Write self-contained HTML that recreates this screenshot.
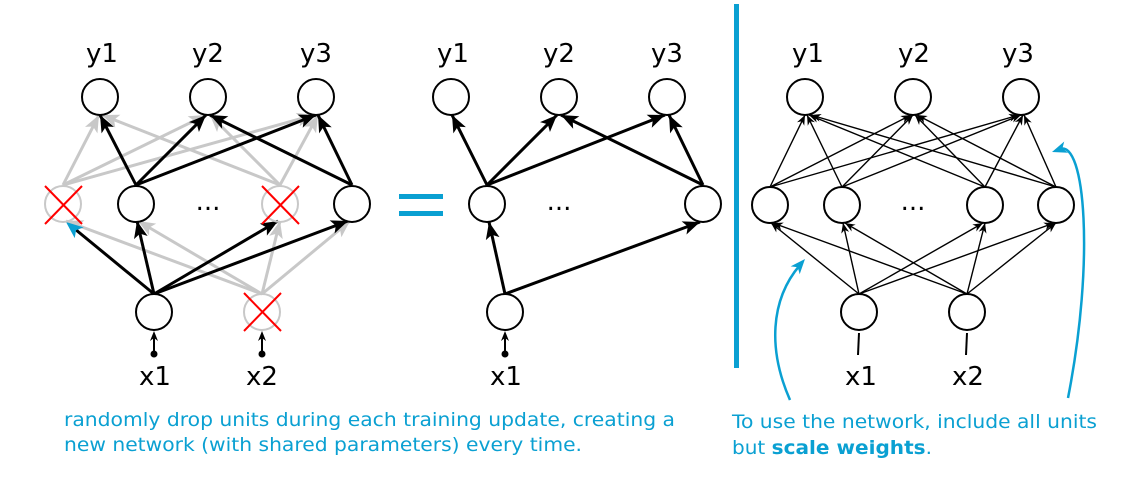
<!DOCTYPE html>
<html><head><meta charset="utf-8"><style>
html,body{margin:0;padding:0;background:#fff;}
svg{display:block;}
text{font-family:"DejaVu Sans","Liberation Sans",sans-serif;}
.big{font-size:26px;fill:#000;}
.cap{font-size:19px;fill:#0aa0d2;}
</style></head><body>
<svg width="1122" height="482" viewBox="0 0 1122 482" xmlns="http://www.w3.org/2000/svg">

<!-- LEFT NETWORK: grey -->
<g style="stroke:#c8c8c8;stroke-width:3;fill:none">
<line x1="63" y1="185" x2="99" y2="115"/>
<line x1="63" y1="185" x2="206" y2="115"/>
<line x1="63" y1="185" x2="314" y2="115"/>
<line x1="280" y1="185" x2="102" y2="115"/>
<line x1="280" y1="185" x2="210" y2="115"/>
<line x1="280" y1="185" x2="318" y2="115"/>
<line x1="262" y1="294" x2="66" y2="221"/>
<line x1="262" y1="294" x2="138" y2="221"/>
<line x1="262" y1="294" x2="280" y2="221"/>
<line x1="262" y1="294" x2="350" y2="221"/>
</g>
<g style="fill:#c8c8c8;stroke:none">
<path transform="translate(99,115) rotate(-62.8)" d="M0,0 L-17,-7 L-13,0 L-17,7Z"/>
<path transform="translate(206,115) rotate(-26.1)" d="M0,0 L-17,-7 L-13,0 L-17,7Z"/>
<path transform="translate(314,115) rotate(-15.6)" d="M0,0 L-17,-7 L-13,0 L-17,7Z"/>
<path transform="translate(102,115) rotate(-158.5)" d="M0,0 L-17,-7 L-13,0 L-17,7Z"/>
<path transform="translate(210,115) rotate(-135)" d="M0,0 L-17,-7 L-13,0 L-17,7Z"/>
<path transform="translate(318,115) rotate(-61.5)" d="M0,0 L-17,-7 L-13,0 L-17,7Z"/>
<path transform="translate(66,221) rotate(-159.6)" d="M0,0 L-17,-7 L-13,0 L-17,7Z"/>
<path transform="translate(138,221) rotate(-149.5)" d="M0,0 L-17,-7 L-13,0 L-17,7Z"/>
<path transform="translate(280,221) rotate(-76.1)" d="M0,0 L-17,-7 L-13,0 L-17,7Z"/>
<path transform="translate(350,221) rotate(-39.7)" d="M0,0 L-17,-7 L-13,0 L-17,7Z"/>
</g>
<!-- black -->
<g style="stroke:#000;stroke-width:3;fill:none">
<line x1="136" y1="185" x2="100" y2="115"/>
<line x1="136" y1="185" x2="206" y2="115"/>
<line x1="136" y1="185" x2="316" y2="115"/>
<line x1="352" y1="185" x2="210" y2="115"/>
<line x1="352" y1="185" x2="318" y2="115"/>
<line x1="154" y1="294" x2="137" y2="221"/>
<line x1="154" y1="294" x2="278" y2="221"/>
<line x1="154" y1="294" x2="348" y2="221"/>
<line x1="154" y1="294" x2="70" y2="225"/>
</g>
<g style="fill:#000;stroke:none">
<path transform="translate(100,115) rotate(-117.2)" d="M0,0 L-17,-7 L-13,0 L-17,7Z"/>
<path transform="translate(206,115) rotate(-45)" d="M0,0 L-17,-7 L-13,0 L-17,7Z"/>
<path transform="translate(316,115) rotate(-21.3)" d="M0,0 L-17,-7 L-13,0 L-17,7Z"/>
<path transform="translate(210,115) rotate(-153.8)" d="M0,0 L-17,-7 L-13,0 L-17,7Z"/>
<path transform="translate(318,115) rotate(-115.9)" d="M0,0 L-17,-7 L-13,0 L-17,7Z"/>
<path transform="translate(137,221) rotate(-103.1)" d="M0,0 L-17,-7 L-13,0 L-17,7Z"/>
<path transform="translate(278,221) rotate(-30.5)" d="M0,0 L-17,-7 L-13,0 L-17,7Z"/>
<path transform="translate(348,221) rotate(-20.6)" d="M0,0 L-17,-7 L-13,0 L-17,7Z"/>
</g>
<path transform="translate(66,222) rotate(-140.7)" d="M0,0 L-17,-7 L-13,0 L-17,7Z" style="fill:#0aa0d2"/>
<g style="stroke:#000;stroke-width:2;fill:#fff">
<circle cx="100" cy="97" r="18"/><circle cx="208" cy="97" r="18"/><circle cx="316" cy="97" r="18"/>
<circle cx="136" cy="204" r="18"/><circle cx="352" cy="204" r="18"/>
<circle cx="154" cy="312" r="18"/>
</g>
<g style="stroke:#c8c8c8;stroke-width:2;fill:none">
<circle cx="63" cy="204" r="18"/><circle cx="280" cy="204" r="18"/><circle cx="262" cy="312" r="18"/>
</g>
<g style="stroke:#ff0000;stroke-width:2">
<line x1="45" y1="186" x2="82" y2="224"/><line x1="82" y1="186" x2="45" y2="224"/>
<line x1="262" y1="186" x2="299" y2="224"/><line x1="299" y1="186" x2="262" y2="224"/>
<line x1="244" y1="293" x2="281" y2="331"/><line x1="281" y1="293" x2="244" y2="331"/>
</g>
<g style="stroke:#000;stroke-width:2">
<line x1="154" y1="354" x2="154" y2="336"/>
<line x1="262" y1="354" x2="262" y2="336"/>
<line x1="505" y1="354" x2="505" y2="336"/>
</g>
<g style="fill:#000">
<path transform="translate(154,331) rotate(-90)" d="M0,0 L-10,-4 L-7,0 L-10,4Z"/>
<path transform="translate(262,331) rotate(-90)" d="M0,0 L-10,-4 L-7,0 L-10,4Z"/>
<path transform="translate(505,331) rotate(-90)" d="M0,0 L-10,-4 L-7,0 L-10,4Z"/>
<circle cx="154" cy="354" r="3.5"/><circle cx="262" cy="354" r="3.5"/><circle cx="505" cy="354" r="3.5"/>
</g>
<g text-anchor="middle">
<text class="big" x="102" y="62">y1</text><text class="big" x="208" y="62">y2</text><text class="big" x="316" y="62">y3</text>
<text class="big" x="208" y="210">...</text>
<text class="big" x="155" y="385">x1</text><text class="big" x="262" y="385">x2</text>
</g>

<!-- equals -->
<rect x="399" y="194" width="44" height="5" fill="#0aa0d2"/>
<rect x="399" y="211" width="44" height="5" fill="#0aa0d2"/>

<!-- MIDDLE NETWORK -->
<g style="stroke:#000;stroke-width:3;fill:none">
<line x1="487" y1="185" x2="452" y2="115"/>
<line x1="487" y1="185" x2="557" y2="115"/>
<line x1="487" y1="185" x2="665" y2="115"/>
<line x1="703" y1="185" x2="561" y2="115"/>
<line x1="703" y1="185" x2="669" y2="115"/>
<line x1="505" y1="294" x2="489" y2="222"/>
<line x1="505" y1="294" x2="700" y2="222"/>
</g>
<g style="fill:#000;stroke:none">
<path transform="translate(452,115) rotate(-116.6)" d="M0,0 L-17,-7 L-13,0 L-17,7Z"/>
<path transform="translate(557,115) rotate(-45)" d="M0,0 L-17,-7 L-13,0 L-17,7Z"/>
<path transform="translate(665,115) rotate(-21.5)" d="M0,0 L-17,-7 L-13,0 L-17,7Z"/>
<path transform="translate(561,115) rotate(-153.8)" d="M0,0 L-17,-7 L-13,0 L-17,7Z"/>
<path transform="translate(669,115) rotate(-115.9)" d="M0,0 L-17,-7 L-13,0 L-17,7Z"/>
<path transform="translate(489,222) rotate(-102.5)" d="M0,0 L-17,-7 L-13,0 L-17,7Z"/>
<path transform="translate(700,222) rotate(-20.3)" d="M0,0 L-17,-7 L-13,0 L-17,7Z"/>
</g>
<g style="stroke:#000;stroke-width:2;fill:#fff">
<circle cx="451" cy="97" r="18"/><circle cx="559" cy="97" r="18"/><circle cx="667" cy="97" r="18"/>
<circle cx="487" cy="204" r="18"/><circle cx="703" cy="204" r="18"/>
<circle cx="505" cy="312" r="18"/>
</g>
<g text-anchor="middle">
<text class="big" x="453" y="62">y1</text><text class="big" x="559" y="62">y2</text><text class="big" x="667" y="62">y3</text>
<text class="big" x="559" y="210">...</text>
<text class="big" x="506" y="385">x1</text>
</g>

<!-- divider -->
<rect x="734" y="4" width="5" height="364" fill="#0aa0d2"/>

<!-- RIGHT NETWORK -->
<g style="stroke:#000;stroke-width:1.4;fill:none">
<line x1="770" y1="187" x2="805" y2="115"/>
<line x1="770" y1="187" x2="911" y2="115"/>
<line x1="770" y1="187" x2="1019" y2="115"/>
<line x1="842" y1="187" x2="807" y2="115"/>
<line x1="842" y1="187" x2="913" y2="115"/>
<line x1="842" y1="187" x2="1021" y2="115"/>
<line x1="985" y1="187" x2="809" y2="115"/>
<line x1="985" y1="187" x2="915" y2="115"/>
<line x1="985" y1="187" x2="1023" y2="115"/>
<line x1="1056" y1="187" x2="811" y2="115"/>
<line x1="1056" y1="187" x2="917" y2="115"/>
<line x1="1056" y1="187" x2="1024" y2="115"/>
<line x1="859" y1="294" x2="771" y2="223"/>
<line x1="859" y1="294" x2="843" y2="223"/>
<line x1="859" y1="294" x2="983" y2="223"/>
<line x1="859" y1="294" x2="1054" y2="223"/>
<line x1="967" y1="294" x2="773" y2="223"/>
<line x1="967" y1="294" x2="845" y2="223"/>
<line x1="967" y1="294" x2="985" y2="223"/>
<line x1="967" y1="294" x2="1056" y2="223"/>
</g>
<g style="fill:#000;stroke:none">
<path transform="translate(805,115) rotate(-64.1)" d="M0,0 L-10,-4 L-7,0 L-10,4Z"/>
<path transform="translate(911,115) rotate(-27.1)" d="M0,0 L-10,-4 L-7,0 L-10,4Z"/>
<path transform="translate(1019,115) rotate(-16.1)" d="M0,0 L-10,-4 L-7,0 L-10,4Z"/>
<path transform="translate(807,115) rotate(-115.9)" d="M0,0 L-10,-4 L-7,0 L-10,4Z"/>
<path transform="translate(913,115) rotate(-45.4)" d="M0,0 L-10,-4 L-7,0 L-10,4Z"/>
<path transform="translate(1021,115) rotate(-21.9)" d="M0,0 L-10,-4 L-7,0 L-10,4Z"/>
<path transform="translate(809,115) rotate(-157.7)" d="M0,0 L-10,-4 L-7,0 L-10,4Z"/>
<path transform="translate(915,115) rotate(-134.2)" d="M0,0 L-10,-4 L-7,0 L-10,4Z"/>
<path transform="translate(1023,115) rotate(-62.2)" d="M0,0 L-10,-4 L-7,0 L-10,4Z"/>
<path transform="translate(811,115) rotate(-163.6)" d="M0,0 L-10,-4 L-7,0 L-10,4Z"/>
<path transform="translate(917,115) rotate(-152.6)" d="M0,0 L-10,-4 L-7,0 L-10,4Z"/>
<path transform="translate(1024,115) rotate(-114)" d="M0,0 L-10,-4 L-7,0 L-10,4Z"/>
<path transform="translate(771,223) rotate(-141.1)" d="M0,0 L-10,-4 L-7,0 L-10,4Z"/>
<path transform="translate(843,223) rotate(-102.7)" d="M0,0 L-10,-4 L-7,0 L-10,4Z"/>
<path transform="translate(983,223) rotate(-29.8)" d="M0,0 L-10,-4 L-7,0 L-10,4Z"/>
<path transform="translate(1054,223) rotate(-20)" d="M0,0 L-10,-4 L-7,0 L-10,4Z"/>
<path transform="translate(773,223) rotate(-159.9)" d="M0,0 L-10,-4 L-7,0 L-10,4Z"/>
<path transform="translate(845,223) rotate(-149.8)" d="M0,0 L-10,-4 L-7,0 L-10,4Z"/>
<path transform="translate(985,223) rotate(-75.8)" d="M0,0 L-10,-4 L-7,0 L-10,4Z"/>
<path transform="translate(1056,223) rotate(-38.6)" d="M0,0 L-10,-4 L-7,0 L-10,4Z"/>
</g>
<g style="stroke:#000;stroke-width:2;fill:#fff">
<circle cx="805" cy="97" r="18"/><circle cx="913" cy="97" r="18"/><circle cx="1021" cy="97" r="18"/>
<circle cx="770" cy="205" r="18"/><circle cx="842" cy="205" r="18"/><circle cx="985" cy="205" r="18"/><circle cx="1056" cy="205" r="18"/>
<circle cx="859" cy="312" r="18"/><circle cx="967" cy="312" r="18"/>
</g>
<g style="stroke:#000;stroke-width:2">
<line x1="859" y1="333" x2="858" y2="355"/>
<line x1="967" y1="333" x2="966" y2="355"/>
</g>
<g text-anchor="middle">
<text class="big" x="808" y="62">y1</text><text class="big" x="914" y="62">y2</text><text class="big" x="1018" y="62">y3</text>
<text class="big" x="913" y="210">...</text>
<text class="big" x="861" y="385">x1</text><text class="big" x="968" y="385">x2</text>
</g>

<!-- blue curved arrows -->
<g style="stroke:#0aa0d2;stroke-width:2.5;fill:none">
<path d="M790,400 C768,350 770,300 800,265"/>
<path d="M1068,398 C1095,260 1085,140 1060,149"/>
</g>
<g style="fill:#0aa0d2">
<path transform="translate(805,259) rotate(-49)" d="M0,0 L-15,-6 L-11,0 L-15,6Z"/>
<path transform="translate(1052,152) rotate(161)" d="M0,0 L-15,-6 L-11,0 L-15,6Z"/>
</g>

<!-- captions -->
<text class="cap" x="64" y="426" textLength="611" lengthAdjust="spacingAndGlyphs">randomly drop units during each training update, creating a</text>
<text class="cap" x="64" y="451" textLength="518" lengthAdjust="spacingAndGlyphs">new network (with shared parameters) every time.</text>
<text class="cap" x="732" y="428" textLength="365" lengthAdjust="spacingAndGlyphs">To use the network, include all units</text>
<text class="cap" x="732" y="454" textLength="200" lengthAdjust="spacingAndGlyphs">but <tspan style="font-weight:bold">scale weights</tspan>.</text>
</svg>
</body></html>
